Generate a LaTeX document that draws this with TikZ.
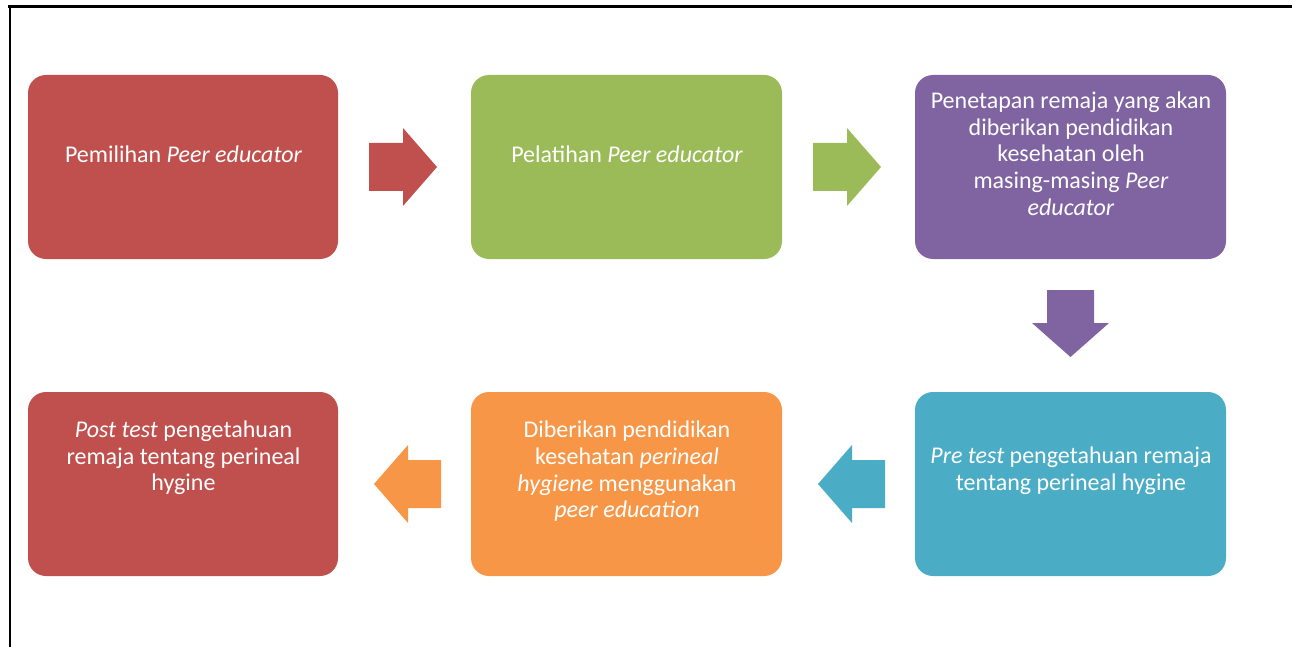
\documentclass[tikz,border=0pt]{standalone}
\usepackage{fontspec}
\setmainfont{Carlito}
\definecolor{cred}{HTML}{C0504D}
\definecolor{cgreen}{HTML}{9BBB59}
\definecolor{cpurple}{HTML}{8064A2}
\definecolor{cteal}{HTML}{4BACC6}
\definecolor{corange}{HTML}{F79646}
\begin{document}
\begin{tikzpicture}[x=1pt,y=-1pt,
  stepbox/.style={rounded corners=18pt},
  boxtext/.style={text=white,align=center,inner sep=0pt,font=\fontsize{24}{26.7}\selectfont}]
\useasboundingbox (0,0) rectangle (1292,647);
% frame
\draw[line width=3.3pt] (8,6.6) -- (1292,6.6);
\draw[line width=2pt] (9.7,5) -- (9.7,647);
% boxes
\fill[cred,stepbox] (28,75) rectangle (338,259);
\fill[cgreen,stepbox] (471,75) rectangle (782,259);
\fill[cpurple,stepbox] (915,75) rectangle (1226,259);
\fill[cred,stepbox] (28,392) rectangle (338,576);
\fill[corange,stepbox] (471,392) rectangle (782,576);
\fill[cteal,stepbox] (915,392) rectangle (1226,576);
% texts
\node[boxtext] (t1) at (183.5,154) {Pemilihan \textit{Peer educator}};
\node[boxtext] (t2) at (627,154) {Pelatihan \textit{Peer educator}};
\node[boxtext] (t3) at (1071,153.5) {Penetapan remaja yang akan\\diberikan pendidikan\\kesehatan oleh\\masing-masing \textit{Peer}\\\textit{educator}};
\node[boxtext] (t4) at (183.5,458) {\textit{Post test} pengetahuan\\remaja tentang perineal\\hygine};
\node[boxtext] (t5) at (627,471.5) {Diberikan pendidikan\\kesehatan \textit{perineal}\\\textit{hygiene} menggunakan\\\textit{peer education}};
\node[boxtext] (t6) at (1071,471) {\textit{Pre test} pengetahuan remaja\\tentang perineal hygine};
% block arrows
\fill[cred] (369,143) -- (403,143) -- (403,128) -- (437,167) -- (403,206) -- (403,191) -- (369,191) -- cycle;
\fill[cgreen] (813,143) -- (847,143) -- (847,128) -- (881,167) -- (847,206) -- (847,191) -- (813,191) -- cycle;
\fill[cpurple] (1047,290) -- (1094,290) -- (1094,323) -- (1109,323) -- (1070.5,357) -- (1032,323) -- (1047,323) -- cycle;
\fill[cteal] (885,460) -- (852,460) -- (852,445) -- (818,484) -- (852,523) -- (852,508) -- (885,508) -- cycle;
\fill[corange] (441,460) -- (408,460) -- (408,445) -- (374,484) -- (408,523) -- (408,508) -- (441,508) -- cycle;
\end{tikzpicture}
\end{document}
